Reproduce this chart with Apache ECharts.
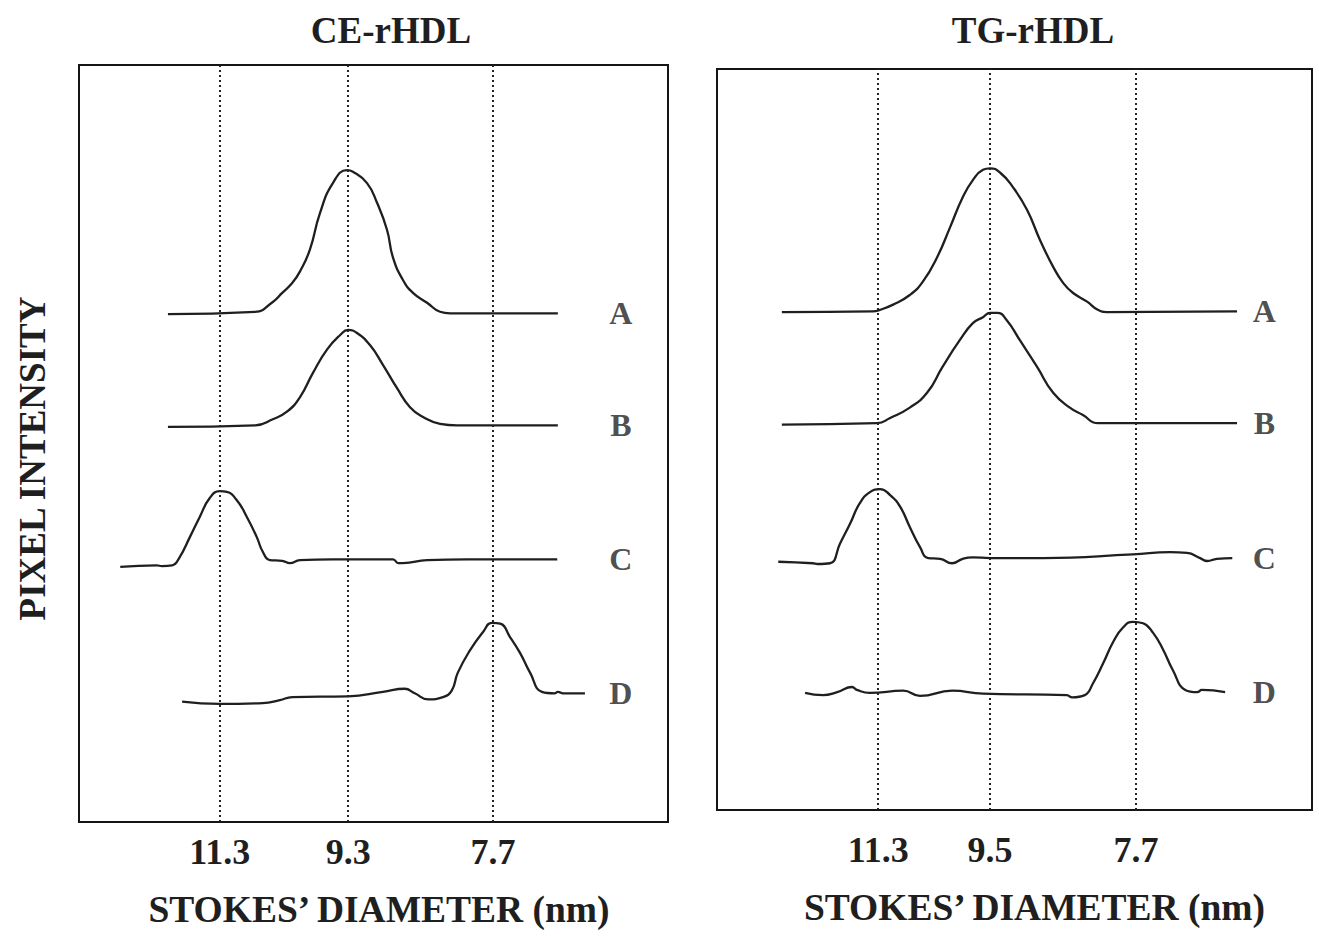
<!DOCTYPE html>
<html>
<head>
<meta charset="utf-8">
<title>Densitometric scans of CE-rHDL and TG-rHDL</title>
<script src="https://cdn.jsdelivr.net/npm/echarts@6/dist/echarts.min.js"></script>
<style>
  html, body { margin: 0; padding: 0; background: #fff; }
  #chart { width: 1319px; height: 937px; }
</style>
</head>
<body>
<div id="chart"></div>
<script>
// Scan position runs 0–100 across each gel lane; intensity is 0–100 with lanes stacked.
var panelTitles = ['CE-rHDL', 'TG-rHDL'];
var laneNames = ['A', 'B', 'C', 'D'];

// Marker positions (scan units) and their Stokes' diameters (nm)
var ceMarkerPos = [23.9, 45.7, 70.3];
var ceMarkerLabels = ['11.3', '9.3', '7.7'];
var tgMarkerPos = [27.1, 45.9, 70.4];
var tgMarkerLabels = ['11.3', '9.5', '7.7'];

// CE-rHDL lanes
var ceLaneA = [[15.1,67.1],[29.9,67.4],[32.9,68.7],[34.5,69.9],[36.2,71.2],[37.5,72.7],[39.2,75.6],[40.9,80.4],[43.1,84.4],[45.5,86.1],[46.5,85.9],[48.9,84.4],[50.6,81.8],[52.3,78.2],[53.3,74.6],[55.0,71.6],[56.7,69.9],[59.1,68.6],[61.3,67.4],[63.0,67.2],[81.3,67.2]];
var ceLaneB = [[15.1,52.2],[29.9,52.4],[32.9,53.2],[35.3,54.2],[37.5,56.1],[39.7,59.3],[42.1,62.4],[44.3,64.3],[45.7,65.0],[47.2,64.6],[49.4,63.0],[51.6,60.4],[54.0,57.3],[56.2,54.8],[58.4,53.5],[61.3,52.6],[64.2,52.4],[81.3,52.4]];
var ceLaneC = [[7.0,33.7],[13.2,33.9],[14.1,33.8],[15.8,33.9],[17.1,35.0],[18.8,37.6],[20.5,40.3],[22.2,42.8],[23.9,43.7],[25.1,43.6],[26.8,42.5],[28.5,40.3],[30.2,37.6],[31.2,35.7],[32.4,34.6],[34.5,34.5],[35.8,34.2],[37.5,34.6],[43.1,34.7],[45.7,34.7],[53.3,34.7],[54.2,34.2],[55.0,34.2],[59.1,34.6],[65.9,34.7],[70.3,34.7],[81.2,34.7]];
var ceLaneD = [[17.5,15.9],[23.9,15.6],[31.2,15.7],[34.1,16.1],[36.2,16.5],[45.7,16.6],[51.6,17.2],[55.3,17.6],[57.0,17.0],[59.3,16.2],[61.8,16.5],[63.3,17.4],[64.3,19.7],[66.4,22.7],[68.6,25.1],[70.1,26.3],[71.5,26.2],[73.2,24.4],[74.9,22.3],[76.6,19.7],[78.6,17.2],[80.8,17.0],[81.3,17.2],[82.2,17.0],[85.9,17.0]];

// TG-rHDL lanes
var tgLaneA = [[10.9,67.2],[26.2,67.3],[27.4,67.5],[29.6,68.2],[32.4,69.5],[34.6,71.3],[37.0,74.6],[39.2,78.7],[41.3,82.7],[43.0,85.0],[44.7,86.4],[45.9,86.6],[47.6,86.0],[49.7,84.1],[52.1,81.0],[54.3,76.9],[56.5,73.3],[58.2,71.1],[59.8,69.8],[62.2,68.6],[64.0,67.5],[65.5,67.2],[87.4,67.3]];
var tgLaneB = [[10.9,52.0],[26.9,52.2],[29.1,52.9],[32.4,54.3],[35.3,56.3],[37.9,59.8],[40.8,63.4],[43.0,65.7],[44.7,66.5],[45.9,67.1],[47.1,67.1],[48.7,66.1],[50.9,63.4],[53.8,59.8],[56.5,56.3],[59.3,54.3],[61.5,53.3],[64.0,52.2],[87.4,52.2]];
var tgLaneC = [[10.3,33.5],[16.1,33.3],[16.9,33.2],[19.0,33.3],[20.7,36.0],[22.4,38.7],[24.0,41.4],[25.7,42.9],[27.4,43.3],[29.1,42.5],[30.8,40.9],[32.4,38.2],[34.1,35.5],[35.5,34.0],[37.5,33.9],[39.5,33.3],[41.3,33.9],[43.0,34.1],[45.9,34.0],[54.8,34.0],[69.9,34.5],[76.1,34.8],[79.0,34.7],[81.2,34.0],[82.4,33.6],[84.0,33.9],[86.6,34.0]];
var tgLaneD = [[14.8,15.8],[17.8,15.5],[20.2,15.9],[22.7,16.6],[23.5,16.2],[25.7,15.8],[31.3,16.1],[34.1,15.4],[39.5,16.1],[44.7,15.7],[58.8,15.5],[59.7,15.2],[61.8,15.5],[63.2,17.1],[64.9,19.8],[66.6,22.7],[68.2,24.6],[69.9,25.4],[71.6,25.2],[73.3,23.9],[75.0,21.6],[76.6,18.9],[78.7,16.2],[80.7,15.9],[81.5,16.2],[85.4,15.9]];

var laneLabelPos = 92;

var ink = '#1f1f1f';
var serif = '"Liberation Serif", "Times New Roman", "DejaVu Serif", serif';

var panels = [
  { title: panelTitles[0], lanes: [ceLaneA, ceLaneB, ceLaneC, ceLaneD], markerPos: ceMarkerPos, markerLabels: ceMarkerLabels,
    grid: { left: 79, top: 65, width: 589, height: 757 }, titleX: 386, labelMargin: 12, nameGap: 68, nameShift: 11 },
  { title: panelTitles[1], lanes: [tgLaneA, tgLaneB, tgLaneC, tgLaneD], markerPos: tgMarkerPos, markerLabels: tgMarkerLabels,
    grid: { left: 717, top: 69, width: 595, height: 741 }, titleX: 1028, labelMargin: 22, nameGap: 78, nameShift: 40 }
];

var option = {
  backgroundColor: '#ffffff',
  animation: false,
  textStyle: { fontFamily: serif },
  title: [],
  grid: [],
  xAxis: [],
  yAxis: [],
  series: []
};

panels.forEach(function (p, i) {
  option.title.push({
    text: p.title,
    left: p.titleX,
    top: 7,
    textAlign: 'center',
    textStyle: { fontFamily: serif, fontSize: 37, fontWeight: 'bold', color: ink }
  });
  option.grid.push(Object.assign({ show: true, borderColor: '#151515', borderWidth: 2, backgroundColor: 'transparent' }, p.grid));
  option.xAxis.push({
    type: 'value', gridIndex: i, min: 0, max: 100,
    axisLine: { show: false }, axisTick: { show: false }, splitLine: { show: false },
    axisLabel: {
      show: true,
      customValues: p.markerPos,
      margin: p.labelMargin,
      fontFamily: serif, fontSize: 36, fontWeight: 'bold', color: ink,
      formatter: function (v) {
        var k = p.markerPos.indexOf(v);
        return k >= 0 ? p.markerLabels[k] : '';
      }
    },
    name: "STOKES\u2019 DIAMETER (nm)",
    nameLocation: 'middle',
    nameGap: p.nameGap,
    nameTextStyle: { fontFamily: serif, fontSize: 37.5, fontWeight: 'bold', color: ink, padding: [0, 0, 0, p.nameShift] }
  });
  option.yAxis.push({
    type: 'value', gridIndex: i, min: 0, max: 100,
    axisLine: { show: false }, axisTick: { show: false }, splitLine: { show: false },
    axisLabel: { show: false },
    name: i === 0 ? 'PIXEL INTENSITY' : '',
    nameLocation: 'middle',
    nameGap: 28,
    nameTextStyle: { fontFamily: serif, fontSize: 37, fontWeight: 'bold', color: ink, padding: [0, 30, 0, 0] }
  });

  p.lanes.forEach(function (lane, j) {
    var s = {
      type: 'line',
      name: p.title + ' ' + laneNames[j],
      xAxisIndex: i, yAxisIndex: i,
      data: lane,
      symbol: 'none',
      smooth: 0.5,
      lineStyle: { color: ink, width: 2.3 },
      silent: true
    };
    if (j === 0) {
      s.markLine = {
        silent: true,
        symbol: 'none',
        label: { show: false },
        lineStyle: { color: '#222', width: 2, type: [2, 3] },
        data: p.markerPos.map(function (x) { return { xAxis: x }; })
      };
    }
    option.series.push(s);
  });

  // Lane letters placed level with each lane's baseline
  option.series.push({
    type: 'scatter',
    xAxisIndex: i, yAxisIndex: i,
    symbolSize: 0,
    silent: true,
    data: p.lanes.map(function (lane, j) {
      return [laneLabelPos, lane[lane.length - 1][1], laneNames[j]];
    }),
    label: {
      show: true, position: 'inside',
      fontFamily: serif, fontSize: 32, fontWeight: 'bold', color: ink,
      formatter: function (d) { return d.value[2]; }
    }
  });
});

var chart = echarts.init(document.getElementById('chart'), null, { renderer: 'svg' });
chart.setOption(option);
</script>
</body>
</html>
